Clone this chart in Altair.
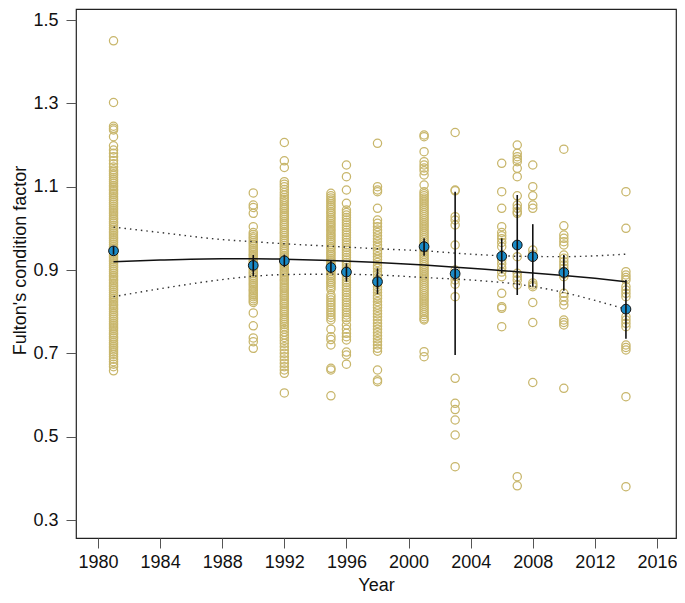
import altair as alt
import pandas as pd

y1981 = [1.45, 1.302, 1.245, 1.24, 1.236, 1.22, 1.198, 1.188, 1.18, 1.172, 1.163, 1.155, 1.147,
         1.14, 1.136, 1.131, 1.127, 1.122, 1.117, 1.113, 1.108, 1.103, 1.099, 1.094, 1.09, 1.085,
         1.081, 1.076, 1.071, 1.067, 1.062, 1.058, 1.053, 1.048, 1.044, 1.039, 1.035, 1.03, 1.025,
         1.021, 1.016, 1.012, 1.007, 1.002, 0.998, 0.993, 0.989, 0.984, 0.979, 0.975, 0.97, 0.966,
         0.961, 0.956, 0.952, 0.947, 0.943, 0.938, 0.933, 0.929, 0.924, 0.92, 0.915, 0.91, 0.906,
         0.901, 0.897, 0.892, 0.887, 0.883, 0.878, 0.874, 0.869, 0.864, 0.86, 0.855, 0.851, 0.846,
         0.841, 0.837, 0.832, 0.828, 0.823, 0.818, 0.814, 0.809, 0.805, 0.8, 0.795, 0.791, 0.786,
         0.782, 0.777, 0.772, 0.768, 0.763, 0.759, 0.754, 0.749, 0.745, 0.74, 0.736, 0.731, 0.726,
         0.722, 0.717, 0.713, 0.708, 0.703, 0.698, 0.692, 0.686, 0.68, 0.674, 0.668, 0.658]
y1990 = [1.085, 1.056, 1.05, 1.036, 1.004, 0.99, 0.985, 0.98, 0.976, 0.971, 0.966, 0.962, 0.957,
         0.952, 0.948, 0.943, 0.938, 0.934, 0.929, 0.924, 0.92, 0.915, 0.91, 0.906, 0.901, 0.896,
         0.892, 0.887, 0.882, 0.878, 0.873, 0.868, 0.864, 0.859, 0.854, 0.85, 0.845, 0.84, 0.836,
         0.831, 0.826, 0.822, 0.797, 0.766, 0.737, 0.728, 0.712]
y1992 = [1.206, 1.162, 1.146, 1.112, 1.106, 1.1, 1.093, 1.086, 1.08, 1.074, 1.069, 1.064, 1.059,
         1.054, 1.049, 1.045, 1.04, 1.035, 1.03, 1.026, 1.021, 1.016, 1.011, 1.007, 1.002, 0.997,
         0.992, 0.988, 0.983, 0.978, 0.973, 0.969, 0.964, 0.959, 0.954, 0.95, 0.945, 0.94, 0.935,
         0.931, 0.926, 0.921, 0.916, 0.912, 0.907, 0.902, 0.897, 0.893, 0.888, 0.883, 0.878, 0.874,
         0.869, 0.864, 0.859, 0.855, 0.85, 0.845, 0.84, 0.836, 0.831, 0.826, 0.821, 0.817, 0.812,
         0.807, 0.802, 0.798, 0.793, 0.788, 0.783, 0.779, 0.774, 0.769, 0.764, 0.758, 0.751, 0.744,
         0.738, 0.731, 0.724, 0.716, 0.708, 0.7, 0.692, 0.684, 0.676, 0.668, 0.66, 0.652, 0.605]
y1995 = [1.084, 1.078, 1.073, 1.068, 1.064, 1.059, 1.054, 1.05, 1.045, 1.04, 1.036, 1.031, 1.026,
         1.022, 1.017, 1.012, 1.008, 1.003, 0.998, 0.994, 0.989, 0.984, 0.98, 0.975, 0.97, 0.966,
         0.961, 0.956, 0.952, 0.947, 0.942, 0.938, 0.933, 0.928, 0.924, 0.919, 0.914, 0.91, 0.905,
         0.9, 0.896, 0.891, 0.886, 0.882, 0.877, 0.872, 0.868, 0.863, 0.858, 0.853, 0.84, 0.834,
         0.828, 0.822, 0.816, 0.81, 0.804, 0.798, 0.792, 0.786, 0.78, 0.758, 0.74, 0.733, 0.72,
         0.664, 0.66, 0.598]
y1996 = [1.152, 1.124, 1.092, 1.06, 1.044, 1.038, 1.032, 1.026, 1.02, 1.014, 1.008, 1.002, 0.996,
         0.99, 0.984, 0.978, 0.972, 0.966, 0.96, 0.954, 0.948, 0.942, 0.936, 0.93, 0.924, 0.918,
         0.912, 0.906, 0.9, 0.894, 0.888, 0.882, 0.876, 0.87, 0.864, 0.858, 0.852, 0.846, 0.84,
         0.834, 0.828, 0.822, 0.816, 0.81, 0.804, 0.798, 0.792, 0.786, 0.78, 0.768, 0.758, 0.748,
         0.74, 0.732, 0.703, 0.696, 0.674]
y1998 = [1.204, 1.1, 1.092, 1.088, 1.048, 1.02, 1.012, 1.004, 0.996, 0.99, 0.982, 0.975, 0.968,
         0.96, 0.954, 0.946, 0.94, 0.932, 0.925, 0.918, 0.91, 0.904, 0.896, 0.889, 0.882, 0.875,
         0.868, 0.86, 0.853, 0.846, 0.838, 0.832, 0.824, 0.816, 0.81, 0.802, 0.795, 0.788, 0.78,
         0.772, 0.765, 0.758, 0.75, 0.742, 0.735, 0.728, 0.72, 0.712, 0.705, 0.66, 0.636, 0.632]
y2001 = [1.224, 1.22, 1.184, 1.16, 1.152, 1.145, 1.138, 1.128, 1.104, 1.088, 1.083, 1.078, 1.073,
         1.068, 1.063, 1.058, 1.053, 1.048, 1.043, 1.038, 1.033, 1.028, 1.023, 1.018, 1.013, 1.008,
         1.003, 0.998, 0.993, 0.988, 0.983, 0.978, 0.973, 0.968, 0.963, 0.958, 0.953, 0.948, 0.943,
         0.938, 0.933, 0.928, 0.923, 0.918, 0.913, 0.908, 0.903, 0.898, 0.893, 0.888, 0.883, 0.878,
         0.873, 0.868, 0.863, 0.858, 0.853, 0.848, 0.843, 0.838, 0.833, 0.828, 0.823, 0.818, 0.813,
         0.808, 0.803, 0.798, 0.793, 0.788, 0.783, 0.78, 0.704, 0.692]
y2003 = [1.23, 1.092, 1.09, 1.028, 1.02, 1.008, 0.96, 0.9, 0.885, 0.876, 0.866, 0.836, 0.64,
         0.58, 0.565, 0.54, 0.504, 0.428]
y2006 = [1.156, 1.088, 1.048, 1.004, 0.99, 0.982, 0.975, 0.966, 0.956, 0.932, 0.924, 0.915, 0.905,
         0.895, 0.884, 0.844, 0.812, 0.808, 0.764]
y2007 = [1.2, 1.18, 1.172, 1.166, 1.16, 1.144, 1.124, 1.078, 1.056, 1.048, 1.04, 1.036, 0.932,
         0.892, 0.884, 0.876, 0.864, 0.404, 0.382]
y2008 = [1.152, 1.1, 1.078, 1.056, 1.048, 0.948, 0.938, 0.869, 0.864, 0.86, 0.822, 0.774, 0.63]
y2010 = [1.19, 1.006, 0.984, 0.976, 0.968, 0.96, 0.936, 0.928, 0.92, 0.912, 0.904, 0.896, 0.89,
         0.884, 0.844, 0.836, 0.826, 0.816, 0.78, 0.774, 0.768, 0.616]
y2014 = [1.088, 1.0, 0.896, 0.888, 0.882, 0.876, 0.86, 0.852, 0.844, 0.836, 0.788, 0.78, 0.772,
         0.764, 0.72, 0.714, 0.708, 0.596, 0.38]

obs = {1981: y1981, 1990: y1990, 1992: y1992, 1995: y1995, 1996: y1996, 1998: y1998,
       2001: y2001, 2003: y2003, 2006: y2006, 2007: y2007, 2008: y2008, 2010: y2010,
       2014: y2014}

# ---- yearly means with error bars ----
mean_years = [1981, 1990, 1992, 1995, 1996, 1998, 2001, 2003, 2006, 2007, 2008, 2010, 2014]
mean_vals = [0.946, 0.911, 0.922, 0.906, 0.895, 0.872, 0.956, 0.891, 0.933, 0.96, 0.932, 0.894, 0.806]
err_lo = [0.937, 0.885, 0.907, 0.892, 0.872, 0.842, 0.934, 0.696, 0.892, 0.84, 0.86, 0.85, 0.735]
err_hi = [0.957, 0.936, 0.937, 0.924, 0.916, 0.904, 0.976, 1.088, 0.976, 1.08, 1.01, 0.936, 0.876]

# ---- fitted trend with confidence band ----
fit_years = [1981, 1984, 1988, 1990, 1992, 1995, 1998, 2001, 2004, 2007, 2010, 2012, 2014]
fit_vals = [0.92, 0.924, 0.927, 0.927, 0.926, 0.923, 0.918, 0.912, 0.904, 0.896, 0.887, 0.88, 0.872]
fit_upper = [1.003, 0.99, 0.973, 0.968, 0.963, 0.957, 0.951, 0.946, 0.938, 0.933, 0.932, 0.934, 0.938]
fit_lower = [0.836, 0.855, 0.877, 0.885, 0.889, 0.89, 0.888, 0.882, 0.876, 0.866, 0.846, 0.827, 0.806]

x_ticks = [1980, 1984, 1988, 1992, 1996, 2000, 2004, 2008, 2012, 2016]
y_ticks = [0.3, 0.5, 0.7, 0.9, 1.1, 1.3, 1.5]

pts = pd.DataFrame([(yr, v) for yr, vals in obs.items() for v in vals], columns=["year", "k"])
means = pd.DataFrame({"year": mean_years, "k": mean_vals, "lo": err_lo, "hi": err_hi})
fit = pd.DataFrame({"year": fit_years, "fit": fit_vals, "up": fit_upper, "low": fit_lower})

FONT = "Liberation Sans"
xs = alt.Scale(domain=[1978.583, 2017.224], nice=False, zero=False)
ys = alt.Scale(domain=[0.2568, 1.5264], nice=False, zero=False)

x_axis = alt.Axis(values=x_ticks, format="d", title="Year", domain=False, grid=False,
                  tickSize=10, tickColor="#555", tickWidth=1, labelFont=FONT, labelFontSize=18,
                  labelColor="#111", labelPadding=5, titleFont=FONT, titleFontSize=18,
                  titleFontWeight="normal", titleColor="#111", titleY=52,
                  titleBaseline="alphabetic")
y_axis = alt.Axis(values=y_ticks, format=".1f", title="Fulton's condition factor", domain=False,
                  grid=False, tickSize=10, tickColor="#555", tickWidth=1, labelFont=FONT,
                  labelFontSize=18, labelColor="#111", labelPadding=8, titleFont=FONT,
                  titleFontSize=18, titleFontWeight="normal", titleColor="#111", titleX=-51,
                  titleY=251, titleAngle=270, titleAlign="center", titleBaseline="alphabetic")


def X():
    return alt.X("year:Q", scale=xs, axis=x_axis, title="Year")


def Y(field):
    return alt.Y(field, scale=ys, axis=y_axis, title="Fulton's condition factor")


rings = alt.Chart(pts).mark_point(shape="circle", filled=False, size=68, strokeWidth=1.25,
                                  color="#C8B66B", opacity=1).encode(x=X(), y=Y("k:Q"))

band_up = alt.Chart(fit).mark_line(color="#333", strokeWidth=1.4, strokeDash=[1.5, 4],
                                   interpolate="monotone").encode(x=X(), y=Y("up:Q"))
band_low = alt.Chart(fit).mark_line(color="#333", strokeWidth=1.4, strokeDash=[1.5, 4],
                                    interpolate="monotone").encode(x=X(), y=Y("low:Q"))
trend = alt.Chart(fit).mark_line(color="#111", strokeWidth=1.5,
                                 interpolate="monotone").encode(x=X(), y=Y("fit:Q"))

mean_pts = alt.Chart(means).mark_point(shape="circle", filled=True, size=95, fill="#1A8AC6",
                                       stroke="#111", strokeWidth=1, opacity=1).encode(
    x=X(), y=Y("k:Q"))
err = alt.Chart(means).mark_rule(color="#111", strokeWidth=1.6).encode(
    x=X(), y=Y("lo:Q"), y2="hi:Q")

chart = alt.layer(rings, band_up, band_low, trend, mean_pts, err).properties(
    width=600, height=529,
    autosize=alt.AutoSizeParams(type="none"),
    padding={"left": 68, "top": 1, "right": 1, "bottom": 57},
).configure_view(stroke="#222", strokeWidth=1.2)

chart.save("out.html", embed_options={"renderer": "svg", "actions": False})
